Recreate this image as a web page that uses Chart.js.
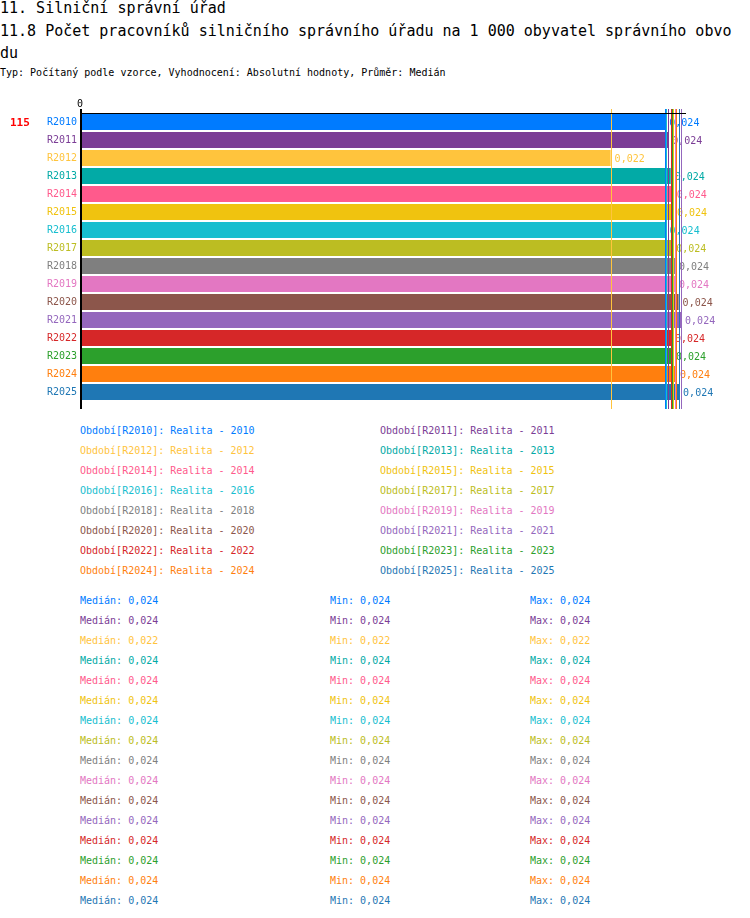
<!DOCTYPE html>
<html>
<head>
<meta charset="utf-8">
<script src="https://cdn.jsdelivr.net/npm/chart.js@4/dist/chart.umd.min.js"></script>
<style>
  html, body { margin:0; padding:0; background:#fff; }
  body { width:750px; height:918px; position:relative; overflow:hidden; font-family:"DejaVu Sans Mono", monospace; color:#000; }
  .t { position:absolute; white-space:nowrap; }
  #title1 { left:0; top:-1px; font-size:15px; line-height:18px; }
  #title2 { left:0; top:20px; width:738px; font-size:15px; line-height:22px; white-space:normal; word-break:break-all; }
  #sub { left:0; top:66px; font-size:10px; line-height:14px; }
  #chartWrap { position:absolute; left:0; top:95px; width:750px; height:320px; }
  .row { position:absolute; font-size:10px; line-height:14px; white-space:nowrap; }
</style>
</head>
<body>
<div class="t" id="title1">11. Silniční správní úřad</div>
<div class="t" id="title2">11.8 Počet pracovníků silničního správního úřadu na 1 000 obyvatel správního obvodu</div>
<div class="t" id="sub">Typ: Počítaný podle vzorce, Vyhodnocení: Absolutní hodnoty, Průměr: Medián</div>
<div id="chartWrap"><canvas id="c" width="750" height="320"></canvas></div>
<div id="texts"></div>
<script>
const categories = ['R2010','R2011','R2012','R2013','R2014','R2015','R2016','R2017','R2018','R2019','R2020','R2021','R2022','R2023','R2024','R2025'];
const years = ['2010','2011','2012','2013','2014','2015','2016','2017','2018','2019','2020','2021','2022','2023','2024','2025'];
const values = [0.02376,0.02388,0.02154,0.02398,0.02406,0.02407,0.02377,0.02404,0.02415,0.02415,0.02430,0.02440,0.02399,0.02403,0.02419,0.02432];
const colors = ['#007bff','#7b3d96','#ffc43d','#02aaa6','#ff5a8c','#f0c30f','#17becf','#bcbd22','#7f7f7f','#e377c2','#8c564b','#9467bd','#d62728','#2ca02c','#ff7f0e','#1f77b4'];
const axisTicks = ['0'];
const axisMax = 0.0246;
const rowLabel = '115';

const fmt = v => v.toFixed(3).replace('.', ',');
const MONO = '"DejaVu Sans Mono", monospace';

const overlay = {
  id: 'overlay',
  afterDatasetsDraw(chart) {
    const ctx = chart.ctx, a = chart.chartArea;
    const xs = chart.scales.x, ys = chart.scales.y;
    ctx.save();
    // data labels
    ctx.font = '10px ' + MONO;
    ctx.textBaseline = 'middle';
    ctx.textAlign = 'left';
    values.forEach((v, i) => {
      ctx.fillStyle = colors[i];
      ctx.fillText(fmt(v), xs.getPixelForValue(v) + 4, ys.getPixelForValue(i) + 1);
    });
    // median lines
    ctx.lineWidth = 1;
    values.forEach((v, i) => {
      const x = Math.round(xs.getPixelForValue(v)) + 0.5;
      ctx.strokeStyle = colors[i];
      ctx.beginPath();
      ctx.moveTo(x, a.top - 4);
      ctx.lineTo(x, a.bottom + 8);
      ctx.stroke();
    });
    // axes
    ctx.strokeStyle = '#000';
    ctx.lineWidth = 1;
    ctx.beginPath();
    ctx.moveTo(a.left, a.top + 0.5);
    ctx.lineTo(a.right, a.top + 0.5);
    ctx.stroke();
    ctx.lineWidth = 2;
    ctx.beginPath();
    ctx.moveTo(a.left + 1, a.top - 4);
    ctx.lineTo(a.left + 1, a.bottom + 8);
    ctx.stroke();
    // top tick label
    ctx.fillStyle = '#000';
    ctx.textAlign = 'center';
    ctx.textBaseline = 'bottom';
    ctx.font = '10px ' + MONO;
    ctx.fillText(axisTicks[0], xs.getPixelForValue(0), a.top - 4);
    // red row label
    ctx.fillStyle = '#ff0000';
    ctx.font = 'bold 11px ' + MONO;
    ctx.textAlign = 'left';
    ctx.textBaseline = 'middle';
    ctx.fillText(rowLabel, 10, ys.getPixelForValue(0) + 1);
    ctx.restore();
  }
};

new Chart(document.getElementById('c'), {
  type: 'bar',
  data: {
    labels: categories,
    datasets: [{
      data: values,
      backgroundColor: colors,
      borderWidth: 0,
      barPercentage: 0.89,
      categoryPercentage: 1
    }]
  },
  options: {
    indexAxis: 'y',
    responsive: false,
    animation: false,
    devicePixelRatio: 1,
    layout: { padding: { left: 0, right: 64, top: 18, bottom: 14 } },
    plugins: { legend: { display: false }, tooltip: { enabled: false } },
    scales: {
      x: { display: false, min: 0, max: axisMax },
      y: {
        position: 'left',
        grid: { display: false, drawTicks: false, tickLength: 0 },
        border: { display: false },
        ticks: {
          color: c => colors[c.index],
          font: { family: MONO, size: 10 },
          padding: 3
        },
        afterFit(s) { s.width = 80; }
      }
    }
  },
  plugins: [overlay]
});

// legend and statistics texts
const box = document.getElementById('texts');
function addText(txt, x, yc, color) {
  const d = document.createElement('div');
  d.className = 'row';
  d.style.left = x + 'px';
  d.style.top = (yc - 6) + 'px';
  d.style.color = color;
  d.textContent = txt;
  box.appendChild(d);
}
categories.forEach((c, i) => {
  const col = i % 2, r = Math.floor(i / 2);
  addText('Období[' + c + ']: Realita - ' + years[i], col ? 380 : 80, 430 + r * 20, colors[i]);
});
values.forEach((v, i) => {
  const y = 600 + i * 20;
  addText('Medián: ' + fmt(v), 80, y, colors[i]);
  addText('Min: ' + fmt(v), 330, y, colors[i]);
  addText('Max: ' + fmt(v), 530, y, colors[i]);
});
</script>
</body>
</html>
